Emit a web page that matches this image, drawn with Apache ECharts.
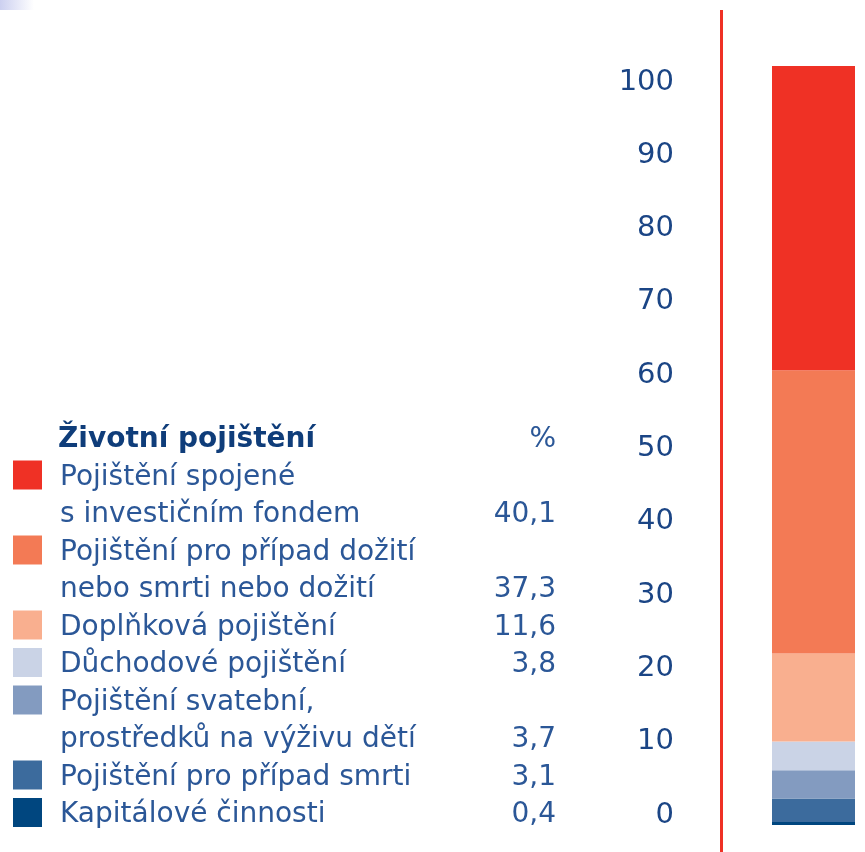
<!DOCTYPE html>
<html>
<head>
<meta charset="utf-8">
<script src="https://cdn.jsdelivr.net/npm/echarts@6/dist/echarts.min.js"></script>
<style>
  html, body { margin: 0; padding: 0; background: #ffffff; }
  #chart { width: 865px; height: 852px; }
</style>
</head>
<body>
<div id="chart"></div>
<script>
// ---- data ----
const title = 'Životní pojištění';
const unitLabel = '%';
const categories = [
  'Pojištění spojené\ns investičním fondem',
  'Pojištění pro případ dožití\nnebo smrti nebo dožití',
  'Doplňková pojištění',
  'Důchodové pojištění',
  'Pojištění svatební,\nprostředků na výživu dětí',
  'Pojištění pro případ smrti',
  'Kapitálové činnosti'
];
const values = [40.1, 37.3, 11.6, 3.8, 3.7, 3.1, 0.4];
const axisMin = 0, axisMax = 100, axisStep = 10;

// ---- styles ----
const palette = ['#ef3125', '#f37a55', '#f9af8f', '#cad3e6', '#839bc0', '#3c6b9d', '#00467f'];
const FONT = 'DejaVu Sans';
const textColor = '#2b5797';
const titleColor = '#0f3d7a';
const axisColor = '#1b4585';

const chart = echarts.init(document.getElementById('chart'), null, { renderer: 'canvas' });

// legend table built from the arrays
const graphics = [];
graphics.push({
  type: 'rect', silent: true,
  shape: { x: 0, y: 0, width: 34, height: 10 },
  style: { fill: new echarts.graphic.LinearGradient(0, 0, 1, 0, [
    { offset: 0, color: '#ccd0f0' }, { offset: 1, color: '#ffffff' }]) }
});
graphics.push({
  type: 'rect', silent: true,
  shape: { x: 720, y: 10, width: 3, height: 842 },
  style: { fill: '#ef3125' }
});
const lineStep = 37.5;
const firstBase = 448;
const mid = (b) => b - 8;
graphics.push({
  type: 'text', x: 58, y: mid(firstBase), silent: true,
  style: { text: title, font: 'bold 28px "' + FONT + '"', fill: titleColor, verticalAlign: 'middle', align: 'left' }
});
graphics.push({
  type: 'text', x: 556, y: mid(firstBase), silent: true,
  style: { text: unitLabel, font: '28px "' + FONT + '"', fill: textColor, verticalAlign: 'middle', align: 'right' }
});
let lineIdx = 1;
categories.forEach((cat, i) => {
  const lines = cat.split('\n');
  const base0 = firstBase + lineStep * lineIdx;
  graphics.push({
    type: 'rect', silent: true,
    shape: { x: 13, y: base0 - 25, width: 29, height: 29 },
    style: { fill: palette[i] }
  });
  lines.forEach((ln, k) => {
    const b = firstBase + lineStep * (lineIdx + k);
    graphics.push({
      type: 'text', x: 60, y: mid(b), silent: true,
      style: { text: ln, font: '28px "' + FONT + '"', fill: textColor, verticalAlign: 'middle', align: 'left' }
    });
  });
  const lastB = firstBase + lineStep * (lineIdx + lines.length - 1);
  graphics.push({
    type: 'text', x: 556, y: mid(lastB), silent: true,
    style: { text: values[i].toFixed(1).replace('.', ','), font: '28px "' + FONT + '"', fill: textColor, verticalAlign: 'middle', align: 'right' }
  });
  lineIdx += lines.length;
});

// stacked bar: bottom segment first
const order = values.map((v, i) => i).reverse();
const series = order.map((i) => ({
  name: categories[i].replace('\n', ' '),
  type: 'bar',
  stack: 'total',
  xAxisIndex: 0, yAxisIndex: 0,
  data: [values[i]],
  barWidth: '100%',
  itemStyle: { color: palette[i] },
  silent: true
}));

chart.setOption({
  animation: false,
  backgroundColor: '#ffffff',
  grid: [
    { left: 772, top: 66, width: 83, height: 759, containLabel: false },
    { left: 690, top: 82, width: 10, height: 733, containLabel: false }
  ],
  xAxis: [
    { gridIndex: 0, type: 'category', data: [title], show: false },
    { gridIndex: 1, type: 'value', show: false }
  ],
  yAxis: [
    { gridIndex: 0, type: 'value', min: axisMin, max: axisMax, show: false },
    {
      gridIndex: 1, type: 'value', min: axisMin, max: axisMax, interval: axisStep,
      position: 'left',
      axisLine: { show: false }, axisTick: { show: false }, splitLine: { show: false },
      axisLabel: { margin: 16, fontFamily: FONT, fontSize: 29, color: axisColor }
    }
  ],
  series: series,
  graphic: graphics
});
</script>
</body>
</html>
